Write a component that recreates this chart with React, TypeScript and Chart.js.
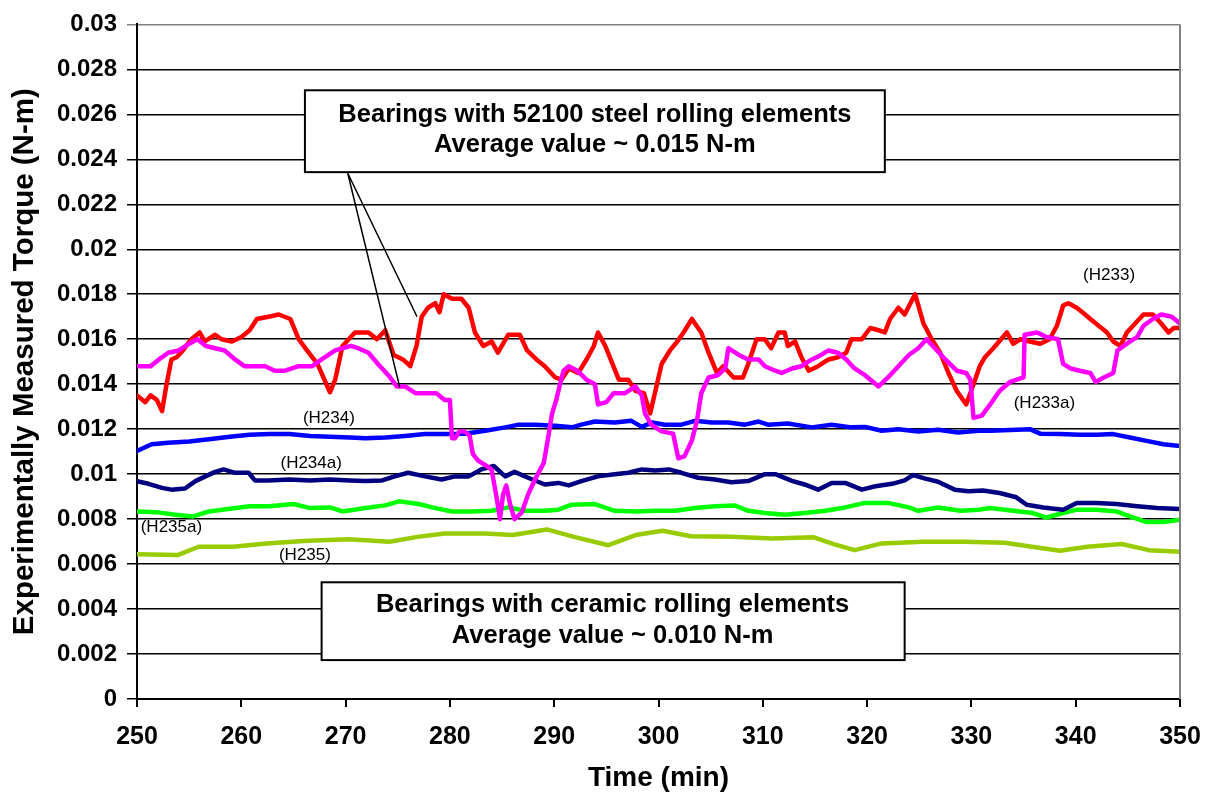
import { useEffect, useRef } from "react";
import { Chart, registerables } from "chart.js";

Chart.register(...registerables);

const FONT = "'Liberation Sans', Arial, Helvetica, sans-serif";

// ---- Data (time in min, torque in N-m) ----
const h233Time = [250.0, 250.8, 251.3, 251.9, 252.4, 252.8, 253.3, 253.8, 254.4, 255.1, 256.0, 256.5, 257.5, 258.1, 259.1, 260.0, 260.8, 261.5, 262.6, 263.6, 264.7, 265.5, 266.3, 267.3, 268.5, 269.0, 269.7, 270.9, 272.2, 273.0, 273.8, 274.6, 275.5, 276.2, 276.8, 277.3, 277.9, 278.6, 279.0, 279.4, 280.2, 281.1, 281.8, 282.4, 283.2, 284.0, 284.6, 285.6, 286.7, 287.4, 288.3, 289.1, 290.1, 290.7, 291.4, 292.3, 293.1, 293.8, 294.2, 294.9, 295.5, 296.2, 297.1, 297.8, 298.6, 299.2, 299.7, 300.3, 301.1, 301.8, 302.4, 303.2, 304.1, 304.8, 305.6, 306.2, 307.2, 308.1, 308.6, 309.4, 310.2, 310.8, 311.5, 312.1, 312.4, 313.1, 313.7, 314.4, 315.3, 316.3, 317.2, 318.0, 318.5, 319.5, 320.3, 321.1, 321.7, 322.2, 323.0, 323.6, 324.6, 325.4, 326.2, 327.0, 327.8, 328.6, 329.5, 330.2, 330.8, 331.3, 332.1, 333.4, 334.0, 334.7, 335.6, 336.6, 337.5, 338.2, 338.8, 339.3, 340.1, 340.9, 341.4, 342.2, 343.0, 343.6, 344.3, 344.9, 345.5, 346.5, 347.4, 348.2, 348.9, 349.4, 350.0];
const h233Torque = [0.0135, 0.0132, 0.0135, 0.0133, 0.0128, 0.0139, 0.0151, 0.0152, 0.0155, 0.01595, 0.0163, 0.0159, 0.0162, 0.016, 0.0159, 0.0161, 0.0164, 0.0169, 0.017, 0.0171, 0.0169, 0.016, 0.0155, 0.0149, 0.01364, 0.0142, 0.0157, 0.0163, 0.0163, 0.016, 0.0164, 0.0153, 0.0151, 0.0148, 0.0157, 0.017, 0.0174, 0.0176, 0.0172, 0.018, 0.0178, 0.0178, 0.0174, 0.0163, 0.0157, 0.0159, 0.0154, 0.0162, 0.0162, 0.0155, 0.0151, 0.0148, 0.0143, 0.0142, 0.0147, 0.0145, 0.0151, 0.0157, 0.0163, 0.0157, 0.015, 0.0142, 0.0142, 0.0137, 0.0136, 0.0127, 0.0137, 0.0149, 0.0155, 0.0159, 0.0163, 0.0169, 0.0163, 0.0154, 0.0145, 0.0148, 0.0143, 0.0143, 0.0149, 0.016, 0.016, 0.0156, 0.0163, 0.0163, 0.0157, 0.0159, 0.0152, 0.0146, 0.0148, 0.0151, 0.0152, 0.0154, 0.016, 0.016, 0.0165, 0.0164, 0.0163, 0.0169, 0.0174, 0.0171, 0.018, 0.0167, 0.016, 0.0154, 0.0145, 0.0137, 0.0131, 0.014, 0.0148, 0.0152, 0.0156, 0.0163, 0.0158, 0.016, 0.0159, 0.0158, 0.016, 0.0166, 0.0175, 0.0176, 0.0174, 0.0171, 0.0169, 0.0166, 0.0163, 0.0159, 0.0157, 0.0163, 0.0166, 0.0171, 0.0171, 0.0167, 0.0163, 0.0165, 0.0165];

const h233aTime = [250.0, 251.3, 252.1, 253.0, 254.0, 255.0, 255.8, 256.6, 257.5, 258.4, 259.4, 260.3, 261.3, 262.3, 263.2, 264.2, 265.5, 266.8, 267.7, 269.0, 270.5, 271.2, 272.2, 273.1, 274.1, 274.9, 275.7, 276.7, 277.6, 278.7, 279.5, 280.0, 280.2, 280.5, 280.9, 281.4, 281.9, 282.2, 282.7, 283.4, 284.0, 284.5, 284.8, 285.1, 285.4, 285.8, 286.2, 286.9, 287.5, 288.2, 289.0, 289.3, 289.8, 290.2, 290.5, 290.9, 291.4, 292.2, 293.1, 293.9, 294.2, 295.0, 295.7, 296.8, 297.8, 298.4, 298.7, 299.3, 300.3, 301.4, 301.9, 302.5, 303.2, 303.7, 304.1, 304.8, 305.7, 306.4, 306.7, 307.7, 308.6, 309.6, 310.2, 311.2, 311.8, 312.8, 313.7, 314.7, 315.6, 316.3, 317.2, 318.0, 318.8, 319.8, 321.1, 322.0, 323.0, 324.0, 324.9, 325.7, 326.5, 327.5, 328.6, 329.5, 329.9, 330.2, 331.0, 331.8, 332.7, 333.7, 335.0, 335.1, 336.3, 337.2, 338.3, 338.8, 339.5, 340.4, 341.4, 341.9, 342.7, 343.6, 344.0, 344.9, 345.9, 346.5, 347.4, 348.2, 349.2, 350.0];
const h233aTorque = [0.0148, 0.0148, 0.0151, 0.0154, 0.0155, 0.0158, 0.016, 0.0157, 0.0156, 0.0155, 0.0151, 0.0148, 0.0148, 0.0148, 0.0146, 0.0146, 0.0148, 0.0148, 0.0151, 0.0155, 0.0157, 0.0156, 0.0154, 0.0149, 0.0144, 0.0139, 0.0139, 0.0136, 0.0136, 0.0136, 0.0133, 0.0133, 0.0116, 0.0116, 0.0119, 0.0119, 0.0117, 0.0109, 0.0106, 0.0104, 0.0102, 0.0089, 0.008, 0.0091, 0.0095, 0.0086, 0.008, 0.0083, 0.0091, 0.0098, 0.0105, 0.0113, 0.0127, 0.0133, 0.0139, 0.0146, 0.0148, 0.0146, 0.0142, 0.014, 0.0131, 0.0132, 0.0136, 0.0136, 0.0139, 0.0135, 0.0127, 0.0122, 0.0119, 0.0118, 0.0107, 0.0108, 0.0115, 0.0124, 0.0136, 0.0143, 0.0144, 0.0147, 0.0156, 0.0153, 0.0151, 0.0151, 0.0148, 0.0146, 0.0145, 0.0147, 0.0148, 0.0151, 0.0153, 0.0155, 0.0154, 0.0151, 0.0147, 0.0144, 0.0139, 0.0143, 0.0148, 0.0153, 0.0156, 0.016, 0.0156, 0.0151, 0.0146, 0.0145, 0.0142, 0.0125, 0.0126, 0.0131, 0.0137, 0.0141, 0.0143, 0.0162, 0.0163, 0.0161, 0.016, 0.0149, 0.0147, 0.0146, 0.0145, 0.0141, 0.0143, 0.0145, 0.0155, 0.0158, 0.0161, 0.0166, 0.0169, 0.0171, 0.017, 0.0167];

const h234Time = [250.0, 251.4, 253.0, 255.0, 256.9, 258.9, 260.8, 262.7, 264.6, 266.6, 268.5, 270.4, 271.9, 273.8, 275.7, 277.6, 279.5, 281.4, 283.4, 285.3, 286.6, 288.2, 290.1, 291.7, 292.6, 293.9, 295.8, 297.4, 298.4, 299.4, 300.6, 302.2, 303.5, 305.1, 306.7, 308.3, 309.6, 310.5, 312.4, 314.7, 316.6, 318.5, 319.8, 321.4, 323.0, 324.9, 326.8, 328.7, 330.7, 331.8, 333.7, 335.6, 336.6, 338.5, 340.4, 342.0, 343.6, 345.2, 346.8, 348.4, 350.0];
const h234Torque = [0.01103, 0.01133, 0.0114, 0.01145, 0.01155, 0.01166, 0.01175, 0.01178, 0.01178, 0.0117, 0.01166, 0.01163, 0.0116, 0.01163, 0.0117, 0.01178, 0.01178, 0.0118, 0.01193, 0.01208, 0.0122, 0.0122, 0.01215, 0.01208, 0.0122, 0.01234, 0.0123, 0.01237, 0.0121, 0.0123, 0.0122, 0.0122, 0.01237, 0.0123, 0.0123, 0.0122, 0.01234, 0.0122, 0.01225, 0.01208, 0.0122, 0.01208, 0.0121, 0.01193, 0.012, 0.0119, 0.01197, 0.01185, 0.01193, 0.01193, 0.01196, 0.012, 0.0118, 0.01178, 0.01175, 0.01175, 0.01178, 0.01163, 0.01148, 0.01133, 0.01125];

const h234aTime = [250.0, 251.1, 252.4, 253.3, 254.6, 255.6, 256.6, 257.5, 258.3, 259.4, 260.7, 261.3, 262.6, 264.6, 266.6, 268.5, 270.4, 271.9, 273.5, 274.7, 276.0, 277.6, 279.2, 280.5, 281.8, 283.0, 284.2, 285.3, 286.2, 287.5, 289.1, 290.4, 291.4, 292.6, 294.2, 295.8, 297.1, 298.4, 299.7, 301.0, 302.2, 303.8, 305.4, 307.0, 308.6, 310.2, 311.2, 312.8, 314.0, 315.3, 316.6, 317.9, 319.5, 320.8, 322.4, 323.6, 324.4, 325.5, 326.8, 328.4, 329.7, 331.1, 332.7, 334.3, 335.3, 336.9, 338.8, 340.1, 342.0, 343.9, 345.9, 347.8, 350.0];
const h234aTorque = [0.00969, 0.00957, 0.00939, 0.00931, 0.00936, 0.00969, 0.00991, 0.0101, 0.01021, 0.01006, 0.01006, 0.00972, 0.00972, 0.00976, 0.00972, 0.00976, 0.00972, 0.00969, 0.00972, 0.0099, 0.01006, 0.0099, 0.00976, 0.0099, 0.0099, 0.01021, 0.01036, 0.0099, 0.0101, 0.00984, 0.00954, 0.00961, 0.0095, 0.00969, 0.0099, 0.00999, 0.01006, 0.01021, 0.01016, 0.01021, 0.01006, 0.00984, 0.00976, 0.00964, 0.00969, 0.01, 0.01, 0.0097, 0.00954, 0.00931, 0.00961, 0.00961, 0.00931, 0.00946, 0.00957, 0.00972, 0.00996, 0.00981, 0.00966, 0.00931, 0.00924, 0.00927, 0.00916, 0.00897, 0.00864, 0.00852, 0.00842, 0.00872, 0.00872, 0.00867, 0.00857, 0.00849, 0.00845];

const h235aTime = [250.0, 251.8, 253.7, 255.4, 256.9, 258.9, 260.8, 262.7, 265.0, 266.6, 268.5, 269.7, 271.9, 273.8, 275.1, 277.0, 278.6, 280.2, 282.1, 284.0, 285.6, 287.2, 289.1, 290.4, 291.7, 293.9, 295.8, 297.8, 299.7, 301.6, 303.5, 305.4, 307.3, 308.6, 310.2, 312.1, 314.0, 316.0, 317.9, 319.8, 322.0, 324.0, 324.9, 326.8, 329.0, 330.7, 331.8, 334.0, 335.9, 337.2, 338.8, 340.1, 342.0, 343.9, 345.2, 346.8, 348.4, 350.0];
const h235aTorque = [0.00834, 0.00831, 0.00819, 0.00812, 0.00834, 0.00846, 0.00857, 0.00857, 0.00867, 0.00849, 0.00852, 0.00834, 0.00849, 0.00861, 0.00879, 0.00867, 0.00849, 0.00834, 0.00834, 0.00837, 0.00852, 0.00837, 0.00837, 0.00842, 0.00864, 0.00867, 0.00837, 0.00834, 0.00837, 0.00837, 0.00849, 0.00857, 0.00861, 0.00837, 0.00827, 0.00819, 0.00827, 0.00837, 0.00852, 0.00872, 0.00872, 0.00852, 0.00837, 0.00852, 0.00837, 0.00842, 0.00849, 0.00837, 0.00827, 0.00807, 0.00827, 0.00842, 0.00842, 0.00834, 0.00812, 0.00787, 0.00787, 0.00797];

const h235Time = [250.0, 253.9, 255.9, 259.2, 262.4, 266.4, 270.3, 274.2, 276.9, 279.5, 283.4, 286.0, 289.3, 291.9, 295.2, 297.8, 300.4, 303.1, 307.0, 310.9, 314.9, 316.8, 318.8, 321.4, 325.3, 329.3, 333.2, 335.8, 338.5, 341.1, 344.4, 347.0, 350.0];
const h235Torque = [0.00644, 0.0064, 0.00677, 0.00677, 0.00692, 0.00704, 0.0071, 0.00699, 0.00721, 0.00736, 0.00736, 0.00729, 0.00754, 0.00721, 0.00684, 0.00729, 0.00748, 0.00724, 0.00721, 0.00714, 0.00719, 0.00689, 0.00662, 0.00692, 0.00699, 0.00699, 0.00695, 0.00677, 0.00659, 0.00677, 0.00689, 0.00662, 0.00655];

// Series labels: [text, time, torque]
const seriesLabels: [string, number, number][] = [
  ["(H233)", 343.2, 0.01882],
  ["(H233a)", 337.0, 0.01314],
  ["(H234)", 268.4, 0.01247],
  ["(H234a)", 266.7, 0.01047],
  ["(H235a)", 253.3, 0.00763],
  ["(H235)", 266.1, 0.00639],
];

const steelNote = ["Bearings with 52100 steel rolling elements", "Average value ~ 0.015 N-m"];
const ceramicNote = ["Bearings with ceramic rolling elements", "Average value ~ 0.010 N-m"];

function pts(t: number[], v: number[]) {
  return t.map((x, i) => ({ x, y: v[i] }));
}

const notesPlugin = {
  id: "notes",
  afterDraw(chart: any) {
    const { ctx, chartArea } = chart;
    const xs = chart.scales.x;
    const ys = chart.scales.y;
    const X = (v: number) => xs.getPixelForValue(v);
    const Y = (v: number) => ys.getPixelForValue(v);
    ctx.save();

    // right plot border (grey)
    ctx.strokeStyle = "#808080";
    ctx.lineWidth = 2;
    ctx.beginPath();
    ctx.moveTo(chartArea.right, chartArea.top);
    ctx.lineTo(chartArea.right, chartArea.bottom);
    ctx.stroke();

    // leader lines
    ctx.strokeStyle = "#000";
    ctx.lineWidth = 1.5;
    ctx.beginPath();
    ctx.moveTo(X(270.2), Y(0.02339));
    ctx.lineTo(X(275.2), Y(0.01385));
    ctx.moveTo(X(270.2), Y(0.02339));
    ctx.lineTo(X(276.85), Y(0.0170));
    ctx.stroke();

    const box = (t0: number, t1: number, v0: number, v1: number, lines: string[], tc: number, l1: number, l2: number) => {
      const x0 = X(t0), x1 = X(t1), y0 = Y(v0), y1 = Y(v1);
      ctx.fillStyle = "#fff";
      ctx.fillRect(x0, y0, x1 - x0, y1 - y0);
      ctx.strokeStyle = "#000";
      ctx.lineWidth = 2;
      ctx.strokeRect(x0, y0, x1 - x0, y1 - y0);
      ctx.fillStyle = "#000";
      ctx.font = `bold 25.5px ${FONT}`;
      ctx.textAlign = "center";
      ctx.textBaseline = "middle";
      ctx.fillText(lines[0], X(tc), Y(l1));
      ctx.fillText(lines[1], X(tc), Y(l2));
    };
    box(266.1, 321.7, 0.02707, 0.02343, steelNote, 293.9, 0.02596, 0.02463);
    box(267.7, 323.6, 0.00519, 0.00173, ceramicNote, 295.6, 0.00417, 0.0028);

    ctx.fillStyle = "#000";
    ctx.font = `17px ${FONT}`;
    ctx.textAlign = "center";
    ctx.textBaseline = "middle";
    for (const [txt, t, v] of seriesLabels) ctx.fillText(txt, X(t), Y(v));
    ctx.restore();
  },
};

export default function App() {
  const ref = useRef<HTMLCanvasElement>(null);
  useEffect(() => {
    if (!ref.current) return;
    const line = (label: string, t: number[], v: number[], color: string) => ({
      label,
      data: pts(t, v),
      borderColor: color,
      backgroundColor: color,
      borderWidth: 4.5,
      pointRadius: 0,
      tension: 0,
      fill: false,
      borderJoinStyle: "round" as const,
      borderCapStyle: "round" as const,
    });
    const chart = new Chart(ref.current, {
      type: "line",
      data: {
        datasets: [
          line("H233a", h233aTime, h233aTorque, "#FF00FF"),
          line("H233", h233Time, h233Torque, "#FF0000"),
          line("H234", h234Time, h234Torque, "#0000FF"),
          line("H234a", h234aTime, h234aTorque, "#000080"),
          line("H235a", h235aTime, h235aTorque, "#00FF00"),
          line("H235", h235Time, h235Torque, "#99CC00"),
        ],
      },
      options: {
        animation: false,
        responsive: false,
        devicePixelRatio: 1,
        layout: { padding: { top: 23, right: 28, left: 0, bottom: 0 } },
        plugins: { legend: { display: false }, tooltip: { enabled: false } },
        scales: {
          x: {
            type: "linear",
            min: 250,
            max: 350,
            ticks: {
              stepSize: 10,
              color: "#000",
              padding: 15,
              maxRotation: 0,
              font: { family: FONT, size: 25, weight: "bold" },
            },
            grid: { drawOnChartArea: false, tickLength: 8, color: "#000", lineWidth: 2 },
            border: { color: "#000", width: 2 },
            title: {
              display: true,
              text: "Time (min)",
              color: "#000",
              font: { family: FONT, size: 28, weight: "bold" },
              padding: { top: 0, bottom: 3 },
            },
            afterFit: (s: any) => {
              s.height = 99;
              s.paddingLeft = 0;
              s.paddingRight = 0;
            },
          },
          y: {
            min: 0,
            max: 0.03,
            ticks: {
              stepSize: 0.002,
              color: "#000",
              padding: 10,
              font: { family: FONT, size: 24, weight: "bold" },
              callback: (v: any) => String(parseFloat(Number(v).toFixed(3))),
            },
            grid: {
              tickLength: 10,
              lineWidth: 1.5,
              color: (c: any) => (Math.abs(c.tick.value - 0.03) < 1e-9 ? "#808080" : "#000"),
            },
            border: { color: "#000", width: 2 },
            title: {
              display: true,
              text: "Experimentally Measured Torque (N-m)",
              color: "#000",
              font: { family: FONT, size: 29.5, weight: "bold" },
              padding: { top: 7, bottom: 0 },
            },
            afterFit: (s: any) => {
              s.width = 137;
            },
          },
        },
      },
      plugins: [notesPlugin],
    });
    return () => chart.destroy();
  }, []);
  return (
    <div style={{ position: "fixed", left: 0, top: 0, width: 1208, height: 798, background: "#fff" }}>
      <canvas ref={ref} width={1208} height={798} style={{ display: "block" }} />
    </div>
  );
}
